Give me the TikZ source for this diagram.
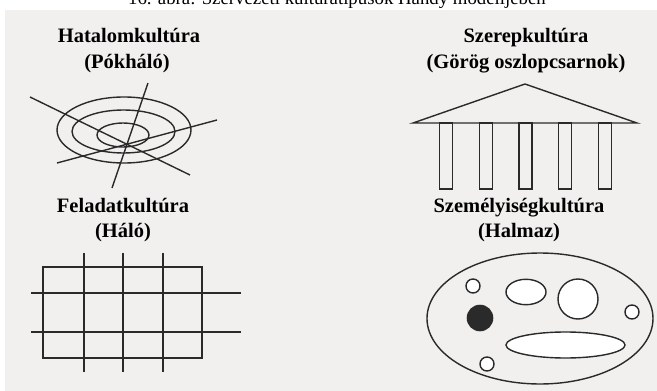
\documentclass[tikz,border=0pt]{standalone}
\usepackage{fontspec}
\setmainfont{Liberation Serif}
\definecolor{panel}{HTML}{F2F0EF}
\definecolor{ink}{HTML}{2A2A2A}
\begin{document}
\begin{tikzpicture}[x=1pt,y=-1pt,
  ttl/.style={font=\fontsize{20.5}{24}\selectfont\bfseries, anchor=base, inner sep=0pt},
  captxt/.style={font=\fontsize{18.8}{21}\selectfont, anchor=base, inner sep=0pt},
  ln/.style={draw=ink, line width=1.4pt},
  hole/.style={draw=ink, line width=1.4pt, fill=white}]
\useasboundingbox (0,0) rectangle (657,391);
\clip (0,0) rectangle (657,391);
\fill[white] (0,0) rectangle (657,391);
\fill[panel] (5,10) rectangle (657,391);
% caption (cut off at top, as in the reference)
\node[captxt] (caption) at (337,4) {16. ábra: Szervezeti kultúratípusok Handy modelljében};
% titles
\node[ttl] (t1a) at (129,42) {Hatalomkultúra};
\node[ttl] (t1b) at (127,68) {(Pókháló)};
\node[ttl] (t2a) at (526,42) {Szerepkultúra};
\node[ttl] (t2b) at (526,68) {(Görög oszlopcsarnok)};
\node[ttl] (t3a) at (123,212) {Feladatkultúra};
\node[ttl] (t3b) at (123,237) {(Háló)};
\node[ttl] (t4a) at (519,212) {Személyiségkultúra};
\node[ttl] (t4b) at (519,237) {(Halmaz)};
% spider web
\draw[ln] (124,130) ellipse [x radius=67, y radius=33];
\draw[ln] (123.5,131.5) ellipse [x radius=51.5, y radius=21.5];
\draw[ln] (123,135) ellipse [x radius=26, y radius=12];
\draw[ln] (30,97) -- (190,175);
\draw[ln] (148,83) -- (112,188);
\draw[ln] (57,163) -- (217,120);
% temple
\draw[ln] (413,123) -- (525,84) -- (637,123) -- cycle;
\foreach \cx in {446,486,525.5,565,605}
  \draw[ln] (\cx-6.5,123) rectangle (\cx+6.5,189);
% grid
\draw[ln] (43,267) rectangle (202,358);
\foreach \gx in {84,123,163}
  \draw[ln] (\gx,253) -- (\gx,372);
\foreach \gy in {293,332}
  \draw[ln] (31,\gy) -- (241,\gy);
% cluster
\draw[ln] (540,318.5) ellipse [x radius=113, y radius=65.5];
\draw[hole] (473,286) circle [radius=7];
\draw[hole] (526,292) ellipse [x radius=20, y radius=12.7];
\draw[hole] (578,299) circle [radius=20];
\draw[hole] (632,312) circle [radius=7];
\fill[ink] (480,318) circle [radius=13.3];
\draw[hole] (565.5,345) ellipse [x radius=59.5, y radius=13];
\draw[hole] (487,364) circle [radius=7];
\end{tikzpicture}
\end{document}
